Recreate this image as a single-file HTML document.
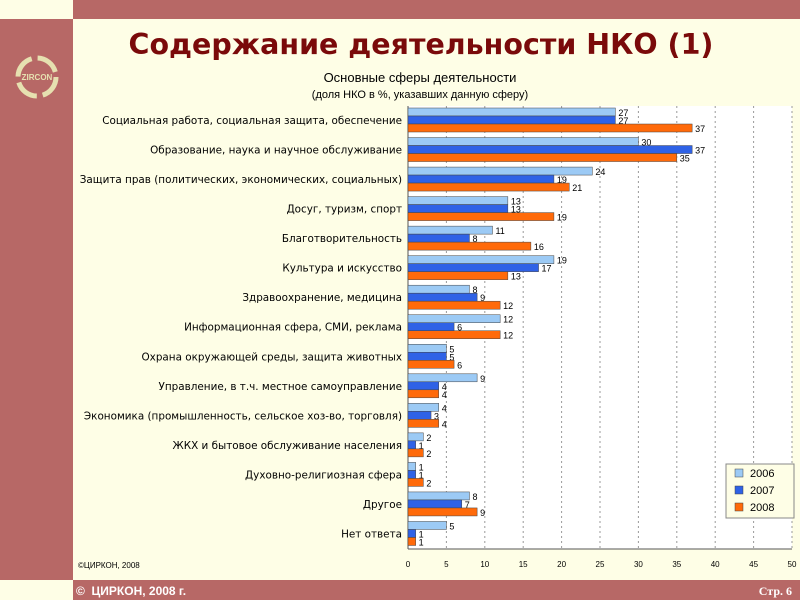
<!DOCTYPE html>
<html><head><meta charset="utf-8"><style>
body{margin:0;width:800px;height:600px;overflow:hidden;background:#fefee6;font-family:"Liberation Sans",sans-serif;position:relative}
.abs{position:absolute}
</style></head><body>
<div class="abs" style="left:73px;top:0;width:727px;height:19px;background:#b76866"></div>
<div class="abs" style="left:0;top:19px;width:73px;height:561px;background:#b76866"></div>
<div class="abs" style="left:73px;top:580px;width:727px;height:20px;background:#b76866"></div>
<svg class="abs" style="left:12px;top:52px" width="50" height="50" viewBox="0 0 50 50">
<circle cx="25" cy="25" r="19" fill="none" stroke="#e6e0b0" stroke-width="5" stroke-dasharray="24 6"/>
<text x="25" y="28" font-size="8" font-weight="bold" fill="#e6e0b0" text-anchor="middle" font-family="Liberation Sans">ZIRCON</text>
</svg>
<div class="abs" style="left:60px;width:722px;top:28px;text-align:center;font-size:28.5px;font-weight:bold;color:#7a0a0a;font-family:'DejaVu Sans',sans-serif">Содержание деятельности НКО (1)</div>
<div class="abs" style="left:240px;width:360px;top:70px;text-align:center;font-size:13px;color:#000">Основные сферы деятельности</div>
<div class="abs" style="left:240px;width:360px;top:89px;text-align:center;font-size:11px;color:#000">(доля НКО в %, указавших данную сферу)</div>
<div class="abs" style="left:78px;top:561px;font-size:8px;color:#000">©ЦИРКОН, 2008</div>
<div class="abs" style="left:76px;top:584px;font-size:12px;font-weight:bold;color:#fff">©&nbsp; ЦИРКОН, 2008 г.</div>
<div class="abs" style="right:8px;top:584px;font-size:12px;font-weight:bold;color:#fff;font-family:'Liberation Serif',serif">Стр. 6</div>
<svg id="chart" class="abs" style="left:0;top:0" width="800" height="600"></svg>
<script>
const categories=["Социальная работа, социальная защита, обеспечение","Образование, наука и научное обслуживание","Защита прав (политических, экономических, социальных)","Досуг, туризм, спорт","Благотворительность","Культура и искусство","Здравоохранение, медицина","Информационная сфера, СМИ, реклама","Охрана окружающей среды, защита животных","Управление, в т.ч. местное самоуправление","Экономика (промышленность, сельское хоз-во, торговля)","ЖКХ и бытовое обслуживание населения","Духовно-религиозная сфера","Другое","Нет ответа"];
const s2006=[27,30,24,13,11,19,8,12,5,9,4,2,1,8,5];
const s2007=[27,37,19,13,8,17,9,6,5,4,3,1,1,7,1];
const s2008=[37,35,21,19,16,13,12,12,6,4,4,2,2,9,1];
const seriesNames=["2006","2007","2008"];
const ticks=[0,5,10,15,20,25,30,35,40,45,50];
const NS="http://www.w3.org/2000/svg";
const svg=document.getElementById('chart');
const X0=408,X1=792,Y0=106,Y1=549,maxV=50;
const xs=v=>X0+(X1-X0)*v/maxV;
const band=(Y1-Y0)/categories.length;
function mk(t,a,p){const e=document.createElementNS(NS,t);for(const k in a)e.setAttribute(k,a[k]);(p||svg).appendChild(e);return e;}
mk('rect',{x:X0,y:Y0,width:X1-X0,height:Y1-Y0,fill:'#ffffff'});
ticks.forEach(t=>{
 if(t>0){const g=mk('line',{x1:xs(t),x2:xs(t),y1:Y0,y2:Y1,stroke:'#999',"stroke-dasharray":'2 3'});
 
 }
 const tx=mk('text',{x:xs(t),y:Y1+18,"font-size":8,"text-anchor":'middle',"font-family":'Liberation Sans'});
 tx.textContent=t;
 
 
});
mk('line',{x1:X0,x2:X0,y1:Y0,y2:Y1,stroke:'#555'});
mk('line',{x1:X0,x2:X1,y1:Y1,y2:Y1,stroke:'#555'});
const colors=['#9ccaf5','#2f62e6','#ff6a0a'];
const series=[s2006,s2007,s2008];
categories.forEach((c,i)=>{
 const top=Y0+i*band+2;
 const lab=mk('text',{x:402,y:top+16,"font-size":10.4,"text-anchor":'end',"font-family":'DejaVu Sans'});
 lab.textContent=c;
 
 
 series.forEach((s,j)=>{
  const y=top+j*8;
  const r=mk('rect',{x:X0,y:y,width:xs(s[i])-X0,height:8,fill:colors[j],stroke:'#444',"stroke-width":0.5});
  
  
  const v=mk('text',{x:xs(s[i])+3,y:y+8,"font-size":9,"font-family":'Liberation Sans'});
  v.textContent=s[i];
  
  
 });
});
const lg=mk('g',{});


mk('rect',{x:726,y:464,width:68,height:54,fill:'#fefee6',stroke:'#888',"stroke-width":1},lg);
seriesNames.forEach((n,j)=>{
 mk('rect',{x:735,y:469+j*17,width:8,height:8,fill:colors[j],stroke:'#444',"stroke-width":0.5},lg);
 const t=mk('text',{x:750,y:477+j*17,"font-size":11,"font-family":'Liberation Sans'},lg);
 t.textContent=n;
 
 
});
</script>
</body></html>
